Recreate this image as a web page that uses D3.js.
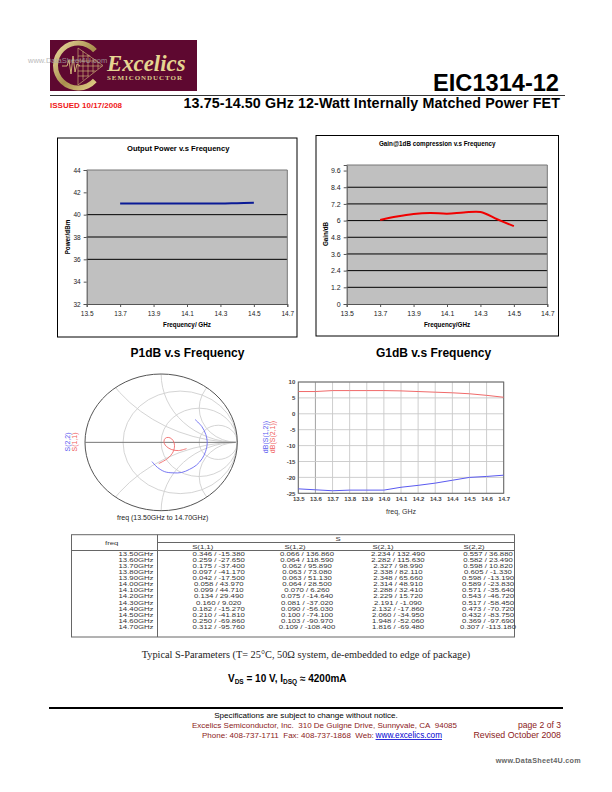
<!DOCTYPE html>
<html><head><meta charset="utf-8">
<script src="https://cdn.jsdelivr.net/npm/d3@7/dist/d3.min.js"></script>
<style>
html,body{margin:0;padding:0;background:#fff}
svg{display:block}
</style></head><body>
<svg id="page" width="612" height="792" font-family="'Liberation Sans',Arial,sans-serif"></svg>
<script>
// ---- data ----
const p1dbFreq = [13.7,13.8,13.9,14.0,14.1,14.2,14.3,14.4,14.5];
const p1dbVal  = [41,41,41,41,41,41,41,41.03,41.06];
const g1dbFreq = [13.7,13.8,13.9,14.0,14.1,14.2,14.3,14.4,14.5];
const g1dbVal  = [6.05,6.3,6.48,6.55,6.5,6.58,6.62,6.1,5.6];
const p1dbYTicks = [32,34,36,38,40,42,44];
const p1dbGrid   = [36,38,40];
const g1dbYTicks = [0,1.2,2.4,3.6,4.8,6,7.2,8.4,9.6];
const g1dbGrid   = [1.2,2.4,3.6,4.8,6,7.2,8.4];
const freqTicks  = [13.5,13.7,13.9,14.1,14.3,14.5,14.7];

const sFreq = ["13.50GHz","13.60GHz","13.70GHz","13.80GHz","13.90GHz","14.00GHz","14.10GHz","14.20GHz","14.30GHz","14.40GHz","14.50GHz","14.60GHz","14.70GHz"];
const sFreqNum = [13.5,13.6,13.7,13.8,13.9,14.0,14.1,14.2,14.3,14.4,14.5,14.6,14.7];
const s11Mag = [0.346,0.259,0.175,0.097,0.042,0.058,0.099,0.134,0.160,0.182,0.210,0.250,0.312];
const s11Ang = [-15.38,-27.65,-37.40,-41.17,-17.50,43.97,44.71,29.49,9.02,-15.27,-41.81,-69.86,-95.76];
const s12Mag = [0.066,0.064,0.062,0.063,0.063,0.064,0.070,0.075,0.081,0.090,0.100,0.103,0.109];
const s12Ang = [136.86,118.59,95.89,73.08,51.13,28.50,6.26,-14.64,-37.02,-56.03,-74.10,-90.97,-108.40];
const s21Mag = [2.234,2.282,2.327,2.338,2.348,2.314,2.288,2.229,2.191,2.132,2.060,1.948,1.816];
const s21Ang = [132.49,115.63,98.99,82.11,65.66,48.91,32.41,15.72,-1.09,-17.86,-34.95,-52.06,-69.48];
const s22Mag = [0.557,0.582,0.598,0.605,0.598,0.589,0.571,0.543,0.517,0.473,0.432,0.369,0.307];
const s22Ang = [36.88,23.49,10.82,-1.33,-13.19,-23.83,-35.64,-46.72,-58.45,-70.72,-83.75,-97.69,-113.18];
const dbS21 = [7,7,7.3,7.3,7.3,7.3,7.2,7,6.8,6.6,6.3,5.8,5.2];
const dbS12 = [-23.6,-23.9,-24.2,-24,-24,-24,-23.1,-22.5,-21.8,-20.9,-20,-19.7,-19.3];
const dbYTicks = [-25,-20,-15,-10,-5,0,5,10];
const dbXTicks = sFreqNum;
const smithR = [1/3,1,3];
const smithX = [0.5,1,2];

// ---- helpers ----
const svg = d3.select("#page");
const sans = "'Liberation Sans',Arial,sans-serif";
const serif = "'Liberation Serif','Times New Roman',serif";
function txt(x,y,s,o={}){
  const t = svg.append("text").attr("x",x).attr("y",y).text(s)
    .attr("font-size",o.size||8).attr("fill",o.fill||"#000")
    .attr("text-anchor",o.anchor||"start")
    .attr("font-weight",o.weight||"normal")
    .attr("font-family",o.family||sans);
  if(o.style) t.attr("font-style",o.style);
  if(o.rotate!==undefined) t.attr("transform",`rotate(${o.rotate} ${x} ${y})`);
  if(o.spacing) t.attr("letter-spacing",o.spacing);
  if(o.deco) t.attr("text-decoration",o.deco);
  return t;
}

// ---- logo ----
const defs = svg.append("defs");
const gold = defs.append("linearGradient").attr("id","gold").attr("x1","0").attr("x2","1").attr("y1","0").attr("y2","1");
gold.append("stop").attr("offset","0").attr("stop-color","#f1e3a6");
gold.append("stop").attr("offset","0.55").attr("stop-color","#a98f4d");
gold.append("stop").attr("offset","1").attr("stop-color","#e8d58e");
svg.append("rect").attr("x",50).attr("y",40).attr("width",147).attr("height",51).attr("fill","#5e0830");
svg.append("path").attr("transform","translate(78,65.5)")
  .attr("d",d3.arc().innerRadius(20).outerRadius(25).startAngle(2.3).endAngle(2*Math.PI+0.85)())
  .attr("fill","url(#gold)");
const logoG = svg.append("g").attr("stroke","#d9c27d").attr("stroke-width",0.6).attr("fill","none");
logoG.append("path").attr("d","M78 48 L103 65.5 L78 85 Z");
[83,88,93,98].forEach(x=>{const h=(103-x)*0.72;logoG.append("line").attr("x1",x).attr("x2",x).attr("y1",65.5-h).attr("y2",65.5+h);});
[56,61,66,71,76].forEach(y=>{const w=103-Math.abs(y-65.5)*1.35;logoG.append("line").attr("x1",78).attr("x2",w).attr("y1",y).attr("y2",y);});
logoG.append("path").attr("stroke-width",0.9).attr("d","M62 66 L67 66 L69 60 L71 74 L73 56 L75 72 L77 64 L80 66");
txt(107,71,"Excelics",{size:22.8,weight:"bold",style:"italic",family:serif,fill:"#e6d592"});
txt(107,80,"SEMICONDUCTOR",{size:7,weight:"bold",family:serif,fill:"#d9c98a",spacing:0.95});
txt(28,63,"www.DataSheet4U.com",{size:7.5,fill:"#aaa"}).attr("opacity",0.8);

// ---- header ----
txt(559,91,"EIC1314-12",{size:23.6,weight:"bold",anchor:"end"});
svg.append("line").attr("x1",50).attr("x2",565).attr("y1",95.5).attr("y2",95.5).attr("stroke","#333").attr("stroke-width",1);
txt(50,107.5,"ISSUED 10/17/2008",{size:8,weight:"bold",fill:"#f01818"});
txt(560,107.5,"13.75-14.50 GHz 12-Watt Internally Matched Power FET",{size:14.3,weight:"bold",anchor:"end",spacing:0.1});

// ---- excel style charts ----
function excelChart(o){
  svg.append("rect").attr("x",o.fx).attr("y",o.fy).attr("width",o.fw).attr("height",o.fh)
    .attr("fill","#fff").attr("stroke","#000").attr("stroke-width",1);
  const x = d3.scaleLinear().domain([13.5,14.7]).range([o.px0,o.px1]);
  const y = d3.scaleLinear().domain(o.yDomain).range([o.py1,o.py0]);
  svg.append("rect").attr("x",o.px0).attr("y",o.py0).attr("width",o.px1-o.px0).attr("height",o.py1-o.py0).attr("fill","#c0c0c0");
  svg.append("g").selectAll("line").data(o.grid).join("line")
    .attr("x1",o.px0).attr("x2",o.px1).attr("y1",d=>y(d)).attr("y2",d=>y(d))
    .attr("stroke","#000").attr("stroke-width",1);
  const ax = svg.append("g").attr("transform",`translate(0,${o.py1})`)
    .call(d3.axisBottom(x).tickValues(freqTicks).tickFormat(d3.format(".1f")).tickSize(3).tickPadding(4));
  const ay = svg.append("g").attr("transform",`translate(${o.px0},0)`)
    .call(d3.axisLeft(y).tickValues(o.yTicks).tickFormat(o.yFmt).tickSize(3).tickPadding(3));
  [ax,ay].forEach(g=>{
    g.selectAll("text").attr("font-size",o.tickSize).attr("fill","#222").attr("font-family",sans);
    g.selectAll("line,path").attr("stroke","#555").attr("stroke-width",1);
  });
  svg.append("line").attr("x1",o.px1).attr("x2",o.px1).attr("y1",o.py0).attr("y2",o.py1).attr("stroke","#777");
  svg.append("line").attr("x1",o.px0).attr("x2",o.px1).attr("y1",o.py0).attr("y2",o.py0).attr("stroke","#777");
  const line = d3.line().x((d,i)=>x(o.xs[i])).y(d=>y(d)).curve(d3.curveCatmullRom);
  svg.append("path").datum(o.ys).attr("d",line).attr("fill","none").attr("stroke",o.color).attr("stroke-width",o.lw);
  txt((o.fx+o.fw/2)+o.tdx,o.ty,o.title,{size:o.titleSize,weight:"bold",anchor:"middle"});
  txt((o.px0+o.px1)/2+o.xdx,o.xly,o.xLabel,{size:6.3,weight:"bold",anchor:"middle"});
  txt(o.ylx,o.yly,o.yLabel,{size:6.3,weight:"bold",anchor:"middle",rotate:-90});
}
excelChart({fx:57.5,fy:138,fw:239.5,fh:199,px0:86.7,px1:287.3,py0:170,py1:304,
  yDomain:[32,44],yTicks:p1dbYTicks,grid:p1dbGrid,yFmt:d3.format("d"),xs:p1dbFreq,ys:p1dbVal,
  color:"#0a1a96",lw:2,title:"Output Power v.s Frequency",ty:151,tdx:1,titleSize:7.6,
  xLabel:"Frequency/ GHz",xly:327,xdx:0,yLabel:"Power/dBm",ylx:69.5,yly:237,tickSize:6.5});
excelChart({fx:316,fy:135.5,fw:242.5,fh:200.5,px0:346.7,px1:547.3,py0:165,py1:304,
  yDomain:[0,10],yTicks:g1dbYTicks,grid:g1dbGrid,yFmt:d=>d3.format("~g")(d),xs:g1dbFreq,ys:g1dbVal,
  color:"#f00000",lw:2,title:"Gain@1dB compression v.s Frequency",ty:146,tdx:0,titleSize:6.3,
  xLabel:"Frequency/GHz",xly:327,xdx:0,yLabel:"Gain/dB",ylx:328,yly:234,tickSize:7});
txt(187.5,357,"P1dB v.s Frequency",{size:12,weight:"bold",anchor:"middle"});
txt(433.5,357,"G1dB v.s Frequency",{size:12,weight:"bold",anchor:"middle"});

// ---- Smith chart ----
const gx = d3.scaleLinear().domain([-1,1]).range([85,237.3]);
const gy = d3.scaleLinear().domain([-1,1]).range([510.7,374]);
defs.append("clipPath").attr("id","unit").append("ellipse")
  .attr("cx",gx(0)).attr("cy",gy(0)).attr("rx",gx(1)-gx(0)).attr("ry",gy(0)-gy(1));
const smithG = svg.append("g").attr("clip-path","url(#unit)").attr("fill","none").attr("stroke","#cfcfcf").attr("stroke-width",0.9);
const rx = r => gx(r)-gx(0), ry = r => gy(0)-gy(r);
smithG.selectAll("ellipse.r").data(smithR).join("ellipse").attr("class","r")
  .attr("cx",r=>gx(r/(1+r))).attr("cy",gy(0)).attr("rx",r=>rx(1/(1+r))).attr("ry",r=>ry(1/(1+r)));
const xs2 = smithX.flatMap(v=>[v,-v]);
smithG.selectAll("ellipse.x").data(xs2).join("ellipse").attr("class","x")
  .attr("cx",gx(1)).attr("cy",v=>gy(1/v)).attr("rx",v=>rx(1/Math.abs(v))).attr("ry",v=>ry(1/Math.abs(v)));
svg.append("ellipse").attr("cx",gx(0)).attr("cy",gy(0)).attr("rx",rx(1)).attr("ry",ry(1))
  .attr("fill","none").attr("stroke","#555").attr("stroke-width",1);
svg.append("line").attr("x1",gx(-1)).attr("x2",gx(0.98)).attr("y1",gy(0)).attr("y2",gy(0)).attr("stroke","#777").attr("stroke-width",1);
const polar = d3.line()
  .x(d=>gx(d[0]*Math.cos(d[1]*Math.PI/180)))
  .y(d=>gy(d[0]*Math.sin(d[1]*Math.PI/180)))
  .curve(d3.curveCatmullRom);
svg.append("path").datum(d3.zip(s22Mag,s22Ang)).attr("d",polar).attr("fill","none").attr("stroke","#6a6af0").attr("stroke-width",0.9);
svg.append("path").datum(d3.zip(s11Mag,s11Ang)).attr("d",polar).attr("fill","none").attr("stroke","#f06a6a").attr("stroke-width",0.9);
txt(70,442,"S(2,2)",{size:7,anchor:"middle",rotate:-90,fill:"#5a5af0"});
txt(77,442,"S(1,1)",{size:7,anchor:"middle",rotate:-90,fill:"#f05a5a"});
txt(162.7,520,"freq (13.50GHz to 14.70GHz)",{size:7,anchor:"middle",fill:"#222"});

// ---- dB plot ----
const dx = d3.scaleLinear().domain([13.5,14.7]).range([298.3,503.7]);
const dy = d3.scaleLinear().domain([-25,10]).range([493.3,382]);
const dbg = svg.append("g").attr("stroke","#c8c8c8").attr("stroke-width",0.9);
dbg.selectAll("line.v").data(dbXTicks).join("line").attr("class","v")
  .attr("x1",d=>dx(d)).attr("x2",d=>dx(d)).attr("y1",382).attr("y2",493.3)
  .attr("stroke",d=>d===13.6?"#999":"#c8c8c8");
dbg.selectAll("line.h").data(dbYTicks).join("line").attr("class","h")
  .attr("x1",298.3).attr("x2",503.7).attr("y1",d=>dy(d)).attr("y2",d=>dy(d));
svg.append("rect").attr("x",298.3).attr("y",382).attr("width",205.4).attr("height",111.3).attr("fill","none").attr("stroke","#666").attr("stroke-width",1);
const dbl = d3.line().x((d,i)=>dx(sFreqNum[i])).y(d=>dy(d));
svg.append("path").datum(dbS21).attr("d",dbl).attr("fill","none").attr("stroke","#f06a6a").attr("stroke-width",1);
svg.append("path").datum(dbS12).attr("d",dbl).attr("fill","none").attr("stroke","#5a5af0").attr("stroke-width",1);
const bx = svg.append("g").attr("transform","translate(0,493.3)").call(d3.axisBottom(dx).tickValues(dbXTicks).tickFormat(d3.format(".1f")).tickSize(0).tickPadding(3));
const by = svg.append("g").attr("transform","translate(298.3,0)").call(d3.axisLeft(dy).tickValues(dbYTicks).tickFormat(d=>String(d)).tickSize(0).tickPadding(3));
[bx,by].forEach(g=>{g.select(".domain").remove();g.selectAll("text").attr("font-size",6).attr("font-weight","bold").attr("fill","#444").attr("font-family",sans);});
txt(267.5,437,"dB(S(1,2))",{size:7,anchor:"middle",rotate:-90,fill:"#5a5af0"});
txt(275,437,"dB(S(2,1))",{size:7,anchor:"middle",rotate:-90,fill:"#f05a5a"});
txt(401,514,"freq, GHz",{size:7,anchor:"middle",fill:"#333"});

// ---- S-parameter table ----
const tbl = svg.append("g").attr("stroke","#666").attr("stroke-width",1).attr("fill","none");
tbl.append("rect").attr("x",71.5).attr("y",534.7).attr("width",443).attr("height",102.3);
tbl.append("line").attr("x1",157.5).attr("x2",157.5).attr("y1",534.7).attr("y2",637);
tbl.append("line").attr("x1",157.5).attr("x2",514.5).attr("y1",542.5).attr("y2",542.5);
tbl.append("line").attr("x1",71.5).attr("x2",514.5).attr("y1",550.5).attr("y2",550.5);
const rowY = d3.scaleLinear().domain([0,12]).range([555.5,629]);
const fmt3 = d3.format(".3f");
const num = v => fmt3(Math.abs(v)).replace(/^/, v<0?"-":"");
const cols = [[s11Mag,s11Ang,218.7],[s12Mag,s12Ang,307],[s21Mag,s21Ang,398],[s22Mag,s22Ang,488]];
const tfont = 5.8, tscale = 1.34;   // the table text is wide and low
function wide(sel,x,y,anchor){
  return sel.attr("transform",(d,i)=>`translate(${x},${y(i)}) scale(${tscale},1)`)
    .attr("text-anchor",anchor).attr("font-size",tfont).attr("fill","#333");
}
wide(svg.append("g").selectAll("text").data(sFreq).join("text").text(d=>d),153.5,rowY,"end");
cols.forEach(c=>{
  wide(svg.append("g").selectAll("text").data(d3.zip(c[0],c[1])).join("text")
    .text(d=>`${num(d[0])} / ${num(d[1])}`),c[2],rowY,"middle");
});
wide(svg.append("text").datum("freq").text("freq"),111.7,()=>545,"middle");
wide(svg.append("text").datum("S").text("S"),338,()=>540.6,"middle");
[["S(1,1)",202.7],["S(1,2)",295],["S(2,1)",383],["S(2,2)",474]].forEach(h=>
  wide(svg.append("text").datum(h[0]).text(h[0]),h[1],()=>548.8,"middle"));

// ---- notes and footer ----
txt(306,658,"Typical S-Parameters (T= 25°C, 50Ω system, de-embedded to edge of package)",{size:10.3,anchor:"middle",family:serif,fill:"#222"});
const vds = svg.append("text").attr("x",228).attr("y",682).attr("font-size",10).attr("font-weight","bold");
vds.append("tspan").text("V");
vds.append("tspan").text("DS").attr("font-size",6.5).attr("dy",2);
vds.append("tspan").text(" = 10 V, I").attr("dy",-2);
vds.append("tspan").text("DSQ").attr("font-size",6.5).attr("dy",2);
vds.append("tspan").text(" ≈ 4200mA").attr("dy",-2);
svg.append("line").attr("x1",49).attr("x2",563).attr("y1",708).attr("y2",708).attr("stroke","#000").attr("stroke-width",2);
txt(306,718,"Specifications are subject to change without notice.",{size:8.1,anchor:"middle"});
txt(324.5,728,"Excelics Semiconductor, Inc.\u00a0\u00a0310 De Guigne Drive, Sunnyvale, CA\u00a0\u00a094085",{size:8,anchor:"middle",fill:"#8b1a1a"});
txt(202,738,"Phone: 408-737-1711\u00a0\u00a0Fax: 408-737-1868\u00a0\u00a0Web:",{size:8,fill:"#8b1a1a"});
txt(442,738,"www.excelics.com",{size:8.2,anchor:"end",fill:"#0000d0",deco:"underline"});
txt(561,728,"page 2 of 3",{size:8.6,anchor:"end",fill:"#8b1a1a"});
txt(561,738,"Revised October 2008",{size:8.8,anchor:"end",fill:"#8b1a1a"});
txt(581,763,"www.DataSheet4U.com",{size:7.2,anchor:"end",fill:"#666",weight:"bold",spacing:0.3});
</script>
</body></html>
